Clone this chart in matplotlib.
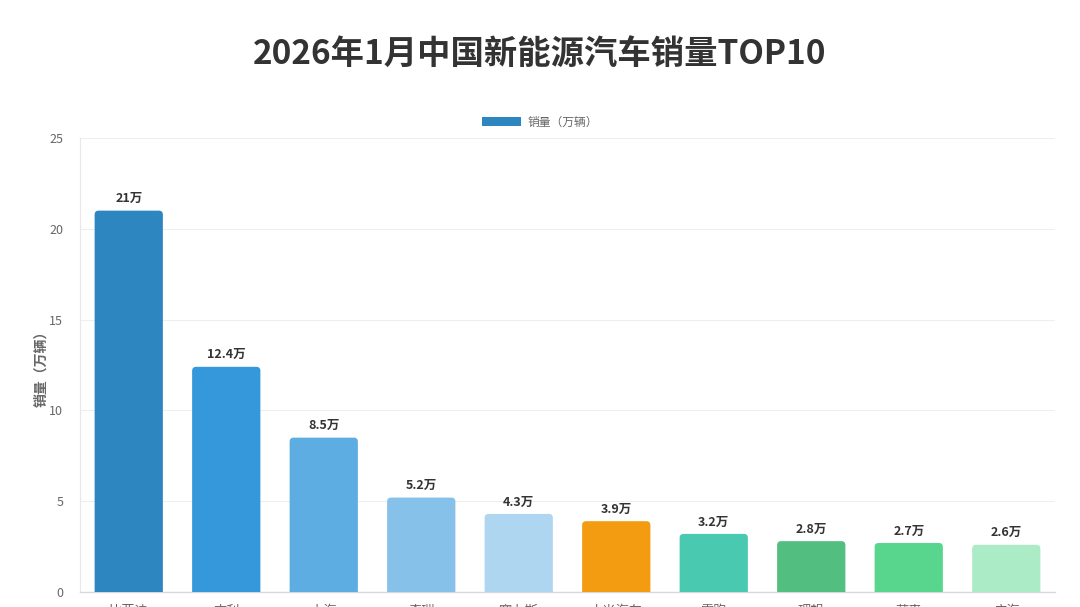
import matplotlib
matplotlib.use("Agg")
import matplotlib.pyplot as plt
from matplotlib.patches import FancyBboxPatch, Patch

plt.rcParams['font.family'] = ['Noto Sans CJK SC', 'DejaVu Sans']

brands = ["比亚迪", "吉利", "上汽", "奇瑞", "赛力斯", "小米汽车", "零跑", "理想", "蔚来", "广汽"]
sales = [21, 12.4, 8.5, 5.2, 4.3, 3.9, 3.2, 2.8, 2.7, 2.6]
value_labels = ["21万", "12.4万", "8.5万", "5.2万", "4.3万", "3.9万", "3.2万", "2.8万", "2.7万", "2.6万"]
colors = ["#2E86C1", "#3498DB", "#5DADE2", "#85C1E9", "#AED6F1",
          "#F39C12", "#48C9B0", "#52BE80", "#58D68D", "#ABEBC6"]
yticks = [0, 5, 10, 15, 20, 25]

fig = plt.figure(figsize=(10.8, 6.07), dpi=100)
ax = fig.add_axes([80/1080, 15/607, 975/1080, 454/607])

n = len(brands)
ax.set_xlim(-0.5, n - 0.5)
ax.set_ylim(0, 25)

width = 0.7
px_x = 975 / n
px_y = 454 / 25
aspect = px_x / px_y
r = 4 / px_x
for i, (v, c) in enumerate(zip(sales, colors)):
    p = FancyBboxPatch((i - width/2, -1), width, v + 1,
                       boxstyle=f"round,pad=0,rounding_size={r}",
                       mutation_aspect=aspect,
                       facecolor=c, edgecolor="none", zorder=3)
    ax.add_patch(p)
    ax.text(i, v + 0.3, value_labels[i], ha="center", va="bottom",
            fontsize=9, fontweight="bold", color="#333333", zorder=4)

ax.set_xticks(range(n))
ax.set_xticklabels(brands, fontsize=9.5, color="#666666")
ax.set_yticks(yticks)
ax.set_yticklabels([str(t) for t in yticks], fontsize=9, color="#666666")
ax.tick_params(axis="both", length=0, pad=9)
ax.tick_params(axis="y", pad=12)

ax.grid(axis="y", color="#EEEEEE", linewidth=0.8, zorder=0)
ax.set_axisbelow(True)
for s in ["top", "right"]:
    ax.spines[s].set_visible(False)
ax.spines["left"].set_color("#E8E8E8")
ax.spines["bottom"].set_color("#D8D8D8")
ax.spines["bottom"].set_linewidth(1.0)

ax.set_ylabel("销量（万辆）", fontsize=10, fontweight="bold", color="#666666", labelpad=1)

fig.text(0.5, 1 - 55/607, "2026年1月中国新能源汽车销量TOP10", ha="center", va="center",
         fontsize=24, fontweight="bold", color="#333333")

handle = Patch(facecolor="#2E86C1", edgecolor="none")
fig.legend([handle], ["销量（万辆）"], loc="center", bbox_to_anchor=(0.5, 1 - 122/607),
           frameon=False, fontsize=8.5, handlelength=3.3, handleheight=0.9,
           labelcolor="#666666", handletextpad=0.6)

fig.savefig("out.png", dpi=100, facecolor="white")
